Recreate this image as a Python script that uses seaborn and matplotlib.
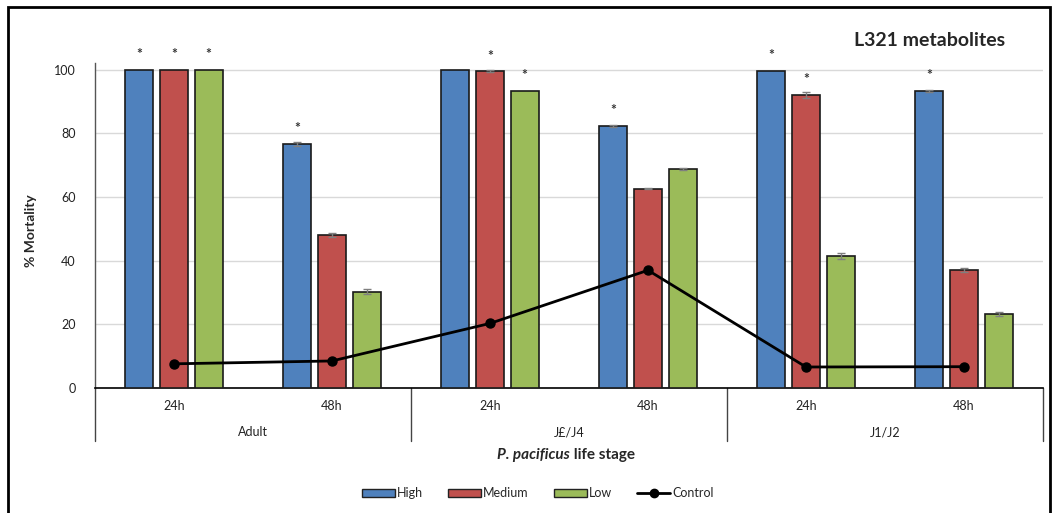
import matplotlib
matplotlib.use("Agg")
import matplotlib.pyplot as plt
import matplotlib.transforms as mtransforms
from matplotlib.patches import Patch, Rectangle
from matplotlib.lines import Line2D
import seaborn as sns
import pandas as pd
import numpy as np

# ---- data ----
stages = ["Adult", "J£/J4", "J1/J2"]
times = ["24h", "48h"]
high = [100.0, 76.7, 100.0, 82.3, 99.7, 93.3]
medium = [100.0, 48.2, 99.5, 62.7, 92.0, 37.0]
low = [100.0, 30.3, 93.3, 68.7, 41.5, 23.3]
control = [7.6, 8.5, 20.3, 37.0, 6.6, 6.7]
high_err = [0.0, 0.6, 0.0, 0.3, 0.0, 0.4]
medium_err = [0.0, 0.6, 0.3, 0.3, 0.9, 0.6]
low_err = [0.0, 0.7, 0.0, 0.3, 1.0, 0.6]
high_star = [1, 1, 0, 1, 1, 1]
medium_star = [1, 0, 1, 0, 1, 0]
low_star = [1, 0, 1, 0, 0, 0]

series_names = ["High", "Medium", "Low"]
colors = ["#4F81BD", "#C0504D", "#9BBB59"]

cats = [f"{s}|{t}" for s in stages for t in times]
df = pd.DataFrame({
    "cat": cats * 3,
    "series": sum([[n] * len(cats) for n in series_names], []),
    "value": high + medium + low,
})

sns.set_theme(style="white")
plt.rcParams["font.family"] = ["Lato", "DejaVu Sans"]

fig = plt.figure(figsize=(10.59, 5.13), dpi=100)
ax = fig.add_axes([95 / 1059, 125 / 513, 948 / 1059, 350 / 513])

sns.barplot(data=df, x="cat", y="value", hue="series", hue_order=series_names,
            palette=colors, width=0.66, gap=0.2, edgecolor="#1a1a1a",
            linewidth=1.2, saturation=1, errorbar=None, ax=ax, legend=False, zorder=3)

# error bars and asterisks from the bar patches
errs = [high_err, medium_err, low_err]
stars = [high_star, medium_star, low_star]
vals = [high, medium, low]
n = len(cats)
bars = [p for p in ax.patches if isinstance(p, Rectangle)][: 3 * n]
for si in range(3):
    for ci in range(n):
        p = bars[si * n + ci]
        xc = p.get_x() + p.get_width() / 2
        v = vals[si][ci]
        e = errs[si][ci]
        if e > 0:
            ax.errorbar(xc, v, yerr=e, fmt="none", ecolor="#7f7f7f",
                        elinewidth=1, capsize=3, capthick=1, zorder=4)
        if stars[si][ci]:
            ax.text(xc, v + 5.0, "*", ha="center", va="center",
                    fontsize=10, fontweight="bold", color="#333333", zorder=5)

# control line
ax.plot(np.arange(n), control, color="black", lw=2, marker="o",
        markersize=6.5, zorder=6)

ax.set_xlim(-0.5, n - 0.5)
ax.set_ylim(0, 110)
ax.set_yticks([0, 20, 40, 60, 80, 100])
ax.tick_params(axis="y", labelsize=9, length=0, pad=14, colors="#222222")
ax.yaxis.grid(True, color="#d9d9d9", lw=1, zorder=0)
ax.set_axisbelow(True)
ax.set_xticks(range(n))
ax.set_xticklabels([t for s in stages for t in times], fontsize=9)
ax.tick_params(axis="x", length=0, pad=9, colors="#222222")
ax.set_xlabel("")
ax.set_ylabel("% Mortality", fontsize=10, fontweight="bold")
ax.yaxis.set_label_coords(-58 / 948, 0.45)

for side in ["top", "right"]:
    ax.spines[side].set_visible(False)
ax.spines["left"].set_bounds(0, 102)
ax.spines["left"].set_color("#555555")
ax.spines["left"].set_linewidth(1)
ax.spines["bottom"].set_color("black")
ax.spines["bottom"].set_linewidth(1.2)

# multi-level category axis
trans = mtransforms.blended_transform_factory(ax.transData, ax.transAxes)
for b in np.arange(-0.5, n, 2):
    ax.plot([b, b], [0, -0.151], transform=trans, color="#444444",
            lw=1, clip_on=False)
for i, s in enumerate(stages):
    ax.text(2 * i + 0.5, -0.126, s, transform=trans, ha="center",
            va="center", fontsize=9, color="#222222")

fig.text(570 / 1059, 1 - 455 / 513, "P. pacificus", ha="right", va="center",
         fontsize=11, fontweight="bold", fontstyle="italic")
fig.text(570 / 1059, 1 - 455 / 513, " life stage", ha="left", va="center",
         fontsize=11, fontweight="bold")

fig.text(930 / 1059, 1 - 40 / 513, "L321 metabolites", ha="center",
         va="center", fontsize=14, fontweight="bold")

handles = [Patch(facecolor=c, edgecolor="#222222", lw=1) for c in colors]
handles.append(Line2D([0], [0], color="black", lw=2, marker="o", markersize=6))
fig.legend(handles, series_names + ["Control"], loc="center",
           bbox_to_anchor=(538 / 1059, 1 - 493 / 513), ncol=4, frameon=False,
           fontsize=9, handlelength=2.6, handleheight=0.6, handletextpad=0.2,
           columnspacing=2.0)

# outer frame
fig.add_artist(Rectangle((8 / 1059, -0.05), (1050 - 8) / 1059, 1 - 7 / 513 + 0.05,
                         transform=fig.transFigure, fill=False,
                         edgecolor="black", lw=2))

fig.savefig("out.png", dpi=100)
